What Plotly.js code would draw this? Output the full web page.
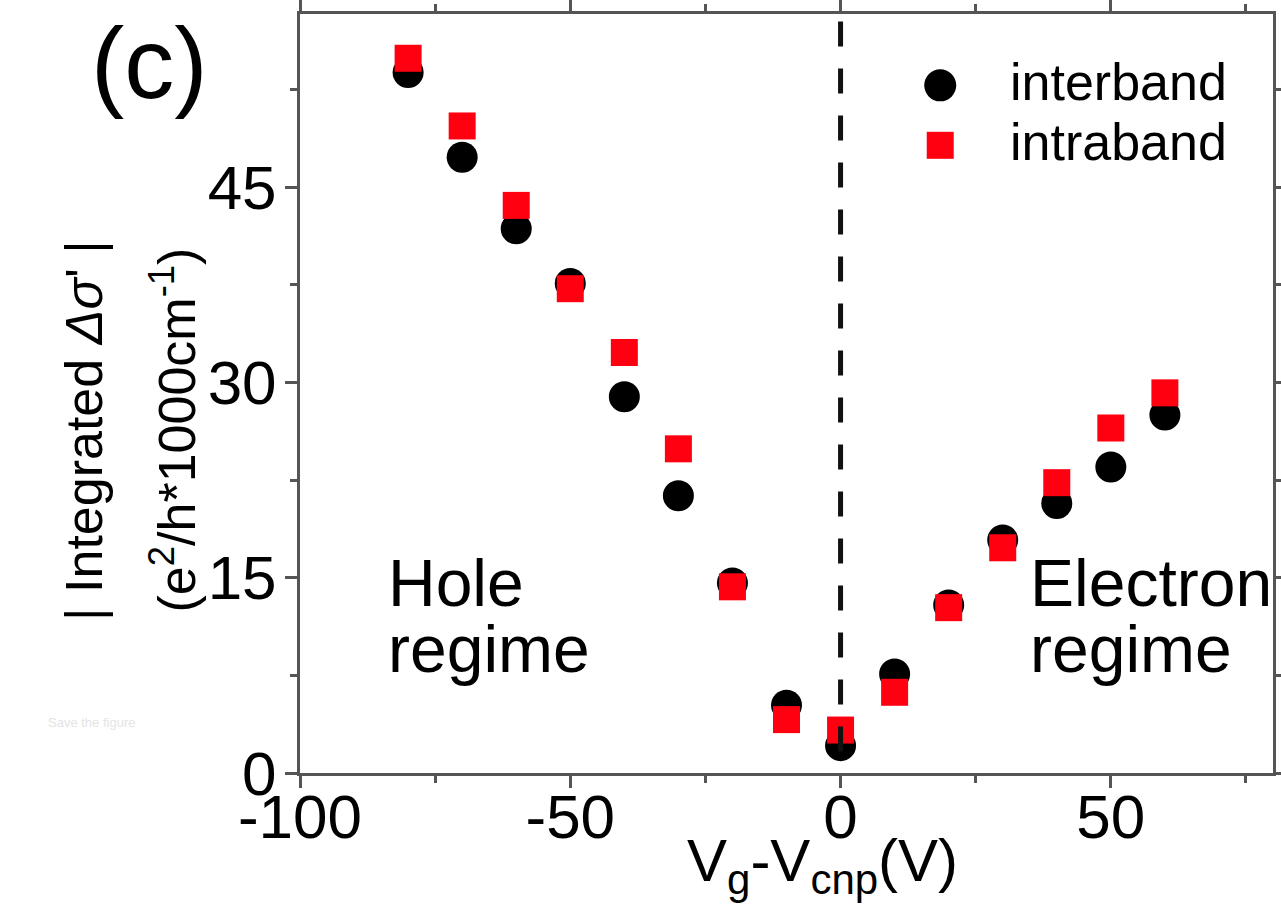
<!DOCTYPE html>
<html>
<head>
<meta charset="utf-8">
<script src="https://cdn.plot.ly/plotly-3.0.1.min.js"></script>
<style>html,body{margin:0;padding:0;background:#fff;}#chart{width:1281px;height:923px;}</style>
</head>
<body>
<div id="chart"></div>
<script>
// Data
var gateVoltage = [-80, -70, -60, -50, -40, -30, -20, -10, 0, 10, 20, 30, 40, 50, 60];
var interband   = [53.8, 47.3, 41.8, 37.6, 28.9, 21.3, 14.6, 5.2, 2.1, 7.6, 12.9, 17.9, 20.7, 23.5, 27.5];
var intraband   = [54.9, 49.7, 43.6, 37.2, 32.3, 24.9, 14.3, 4.1, 3.3, 6.2, 12.7, 17.3, 22.3, 26.5, 29.2];
var seriesNames = ['interband', 'intraband'];
var xTickVals = [-100, -50, 0, 50];
var yTickVals = [0, 15, 30, 45];

var FONT = 'Liberation Sans, Arial, Helvetica, sans-serif';
var AX = '#555555';

var traces = [
  {x: gateVoltage, y: interband, name: seriesNames[0], type: 'scatter', mode: 'markers',
   marker: {symbol: 'circle', size: 31, color: '#000000'}},
  {x: gateVoltage, y: intraband, name: seriesNames[1], type: 'scatter', mode: 'markers',
   marker: {symbol: 'square', size: 27, color: '#ff0010'}}
];

function axisBase() {
  return {
    showgrid: false, zeroline: false, showline: true, linewidth: 3, linecolor: AX,
    mirror: 'ticks', ticks: 'outside', ticklen: 12, tickwidth: 3, tickcolor: AX,
    tickfont: {family: FONT, size: 62, color: '#000'},
    minor: {ticks: 'outside', ticklen: 7, tickwidth: 3, tickcolor: AX}
  };
}

var xaxis = axisBase();
xaxis.range = [-100, 80];
xaxis.tickmode = 'array';
xaxis.tickvals = xTickVals;
xaxis.ticktext = xTickVals.map(String);
xaxis.minor.dtick = 25;
xaxis.minor.tick0 = 0;
xaxis.ticklabelstandoff = -24;

var yaxis = axisBase();
yaxis.range = [0, 58.3];
yaxis.tickmode = 'array';
yaxis.tickvals = yTickVals;
yaxis.ticktext = yTickVals.map(String);
yaxis.minor.dtick = 7.5;
yaxis.minor.tick0 = 0;
yaxis.ticklabelstandoff = -4;

function ann(text, x, y, size, opts) {
  var a = {text: text, x: x, y: y, xref: 'paper', yref: 'paper', showarrow: false,
           font: {family: FONT, size: size, color: '#000'}, xanchor: 'center', yanchor: 'middle'};
  for (var k in opts) a[k] = opts[k];
  return a;
}

var annotations = [
  ann('(c)', -0.155, 0.935, 100, {}),
  ann('Hole', 0.088, 0.250, 66, {xanchor: 'left'}),
  ann('regime', 0.088, 0.163, 66, {xanchor: 'left'}),
  ann('Electron', 0.748, 0.250, 66, {xanchor: 'left'}),
  ann('regime', 0.748, 0.163, 66, {xanchor: 'left'}),
  ann(seriesNames[0], 0.728, 0.910, 52, {xanchor: 'left'}),
  ann(seriesNames[1], 0.728, 0.831, 52, {xanchor: 'left'}),
  ann('V<sub>g</sub>-V<sub>cnp</sub>(V)', 0.537, -0.121, 60, {}),
  ann("| Integrated <i>Δσ</i>' |", -0.222, 0.452, 52, {textangle: -90}),
  ann('(e<sup>2</sup>/h*1000cm<sup>-1</sup>)', -0.130, 0.452, 52, {textangle: -90}),
  ann('Save the figure', -0.214, 0.067, 13, {font: {family: FONT, size: 13, color: '#e4e4e4'}})
];

var shapes = [
  {type: 'line', xref: 'x', yref: 'paper', x0: 0, x1: 0, y0: 0.99, y1: 0, layer: 'above',
   line: {color: '#111', width: 5, dash: '25px,22px'}},
  // manual legend symbols
  {type: 'circle', xref: 'paper', yref: 'paper', xsizemode: 'pixel', ysizemode: 'pixel',
   xanchor: 0.658, yanchor: 0.906, x0: -16, x1: 16, y0: -16, y1: 16,
   fillcolor: '#000', line: {width: 0}},
  {type: 'rect', xref: 'paper', yref: 'paper', xsizemode: 'pixel', ysizemode: 'pixel',
   xanchor: 0.658, yanchor: 0.827, x0: -13.5, x1: 13.5, y0: -13.5, y1: 13.5,
   fillcolor: '#ff0010', line: {width: 0}}
];

var layout = {
  width: 1281, height: 923, autosize: false,
  margin: {l: 300, r: 8, t: 14, b: 150},
  paper_bgcolor: '#fff', plot_bgcolor: '#fff',
  showlegend: false,
  font: {family: FONT, color: '#000'},
  xaxis: xaxis, yaxis: yaxis,
  annotations: annotations, shapes: shapes
};

Plotly.newPlot('chart', traces, layout, {displayModeBar: false, staticPlot: true});
</script>
</body>
</html>
